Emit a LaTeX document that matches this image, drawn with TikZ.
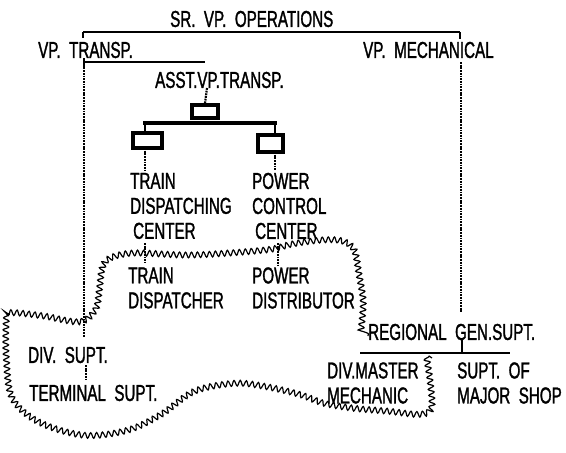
\documentclass[tikz,border=0pt]{standalone}
\usepackage{fontspec}
\setmainfont[FakeStretch=0.66, FakeBold=1.3]{Liberation Sans}
\usetikzlibrary{decorations.pathmorphing}
\tikzset{
  lbl/.style={anchor=west, inner sep=0pt, font=\fontsize{23}{25}\selectfont, align=left},
  hbar/.style={line width=2.2pt},
  vconn/.style={line width=2.2pt, dash pattern=on 1.8pt off 0.9pt},
  boxd/.style={draw, line width=3.4pt, fill=white},
  wave/.style={line width=1.2pt, decorate, decoration={snake, amplitude=2.8pt, segment length=6pt}},
}
\begin{document}
\begin{tikzpicture}[x=1pt,y=-1pt]
\fill[white] (0,0) rectangle (566,453);
\useasboundingbox (0,0) rectangle (566,453);

% labels
\node[lbl] (sr) at (170,19) {SR.\ \ VP.\ \ OPERATIONS};
\node[lbl] (vpt) at (38,50) {VP.\ \ TRANSP.};
\node[lbl] (vpm) at (363,50) {VP.\ \ MECHANICAL};
\node[lbl] (asst) at (155,80) {ASST.VP.TRANSP.};
\node[lbl] (tdc) at (130,206) {TRAIN\\DISPATCHING\\\hspace{3pt}CENTER};
\node[lbl] (pcc) at (252,206) {POWER\\CONTROL\\\hspace{3pt}CENTER};
\node[lbl] (td) at (128,288) {TRAIN\\DISPATCHER};
\node[lbl] (pd) at (252,288) {POWER\\DISTRIBUTOR};
\node[lbl] (div) at (28,355) {DIV.\ \ SUPT.};
\node[lbl] (term) at (29,393) {TERMINAL\ \ SUPT.};
\node[lbl] (reg) at (368,332) {REGIONAL\ \ GEN.SUPT.};
\node[lbl] (dmm) at (327,383) {DIV.MASTER\\MECHANIC};
\node[lbl] (sms) at (457,383) {SUPT.\ \ OF\\MAJOR\ \ SHOP};

% coordinates
\coordinate (srL) at (83,32);
\coordinate (srR) at (460,32);
\coordinate (vtL) at (84,62);
\coordinate (vtR) at (205,62);
\coordinate (vmT) at (461,62);
\coordinate (vmB) at (461,313);
\coordinate (vtB) at (84,337);
\coordinate (dsB) at (86,365);
\coordinate (tsT) at (86,380);
\coordinate (asB) at (207,88);
\coordinate (barL) at (143,123);
\coordinate (barR) at (277,123);
\coordinate (regT) at (462,338);
\coordinate (regB) at (462,353);
\coordinate (ulL) at (360,353);
\coordinate (ulR) at (510,353);

% boxes
\node[boxd, minimum width=26pt, minimum height=13pt, inner sep=0pt] (b0) at (205,111.5) {};
\node[boxd, minimum width=29pt, minimum height=15pt, inner sep=0pt] (b1) at (147.5,140.5) {};
\node[boxd, minimum width=25pt, minimum height=17pt, inner sep=0pt] (b2) at (270.5,143.5) {};

% top structure
\draw[hbar] (srL) -- (srR);
\draw[line width=1.4pt] (srL) -- ++(0,6);
\draw[line width=1.4pt] (srR) -- ++(0,7);
\draw[hbar] (vtL) -- (vtR);
\draw[line width=1.4pt] (84,58) -- (84,66);
\draw[vconn] (vtL) -- (vtB);
\draw[vconn] (vmT) -- (vmB);
\draw[vconn] (dsB) -- (tsT);
\draw[vconn] (asB) -- (b0.north);
\draw[line width=4pt] (barL) -- (barR);
\draw[line width=1.6pt] (145,123) -- (145,133);
\draw[line width=1.6pt] (275,123) -- (275,135);
\draw[vconn] (145,148) -- (145,170);
\draw[vconn] (275,152) -- (275,170);
\draw[vconn] (145,243) -- (145,262);
\draw[vconn] (278,243) -- (278,265);
\draw[hbar] (ulL) -- (ulR);
\draw[line width=1.6pt] (regT) -- (regB);

% wavy boundary
\draw[wave] plot[smooth, tension=0.55] coordinates {
 (432,358) (436,385) (437,410) (425,416) (395,413) (360,410) (330,405)
 (305,396) (270,388) (240,385) (200,393) (167,416) (133,432) (90,437)
 (45,424) (18,400) (12,360) (12,322) (16,313) (50,316) (87,322)
 (103,310) (107,290) (110,268) (118,258) (143,253) (200,255) (273,250)
 (300,244) (330,240) (350,241) (362,250) (367,275) (371,300) (370,320) (368,336)};
\end{tikzpicture}
\end{document}
